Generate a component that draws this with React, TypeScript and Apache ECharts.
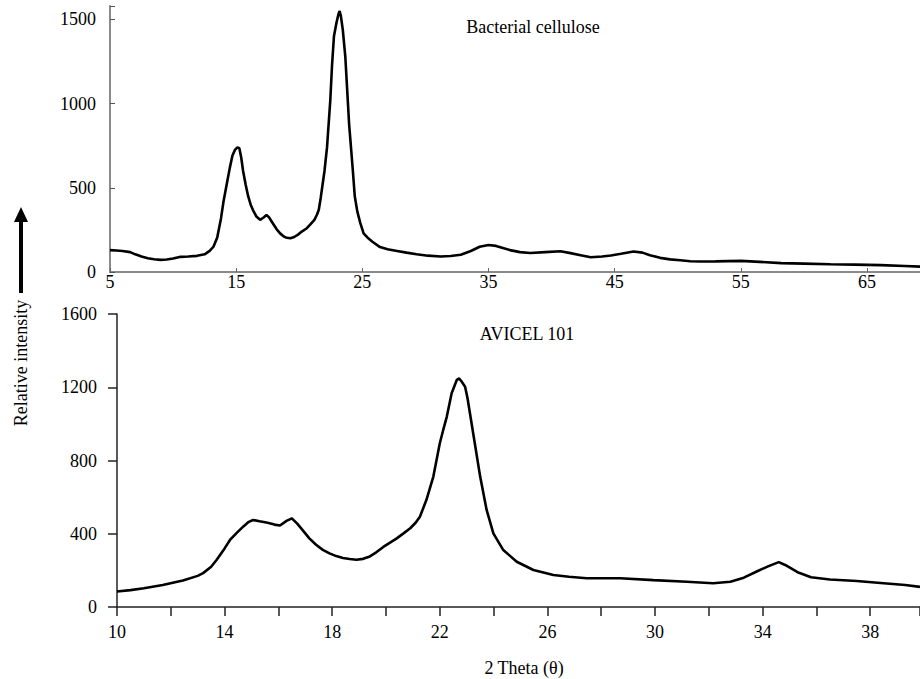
import React, { useEffect, useRef } from "react";
import * as echarts from "echarts";

// Bacterial cellulose (top panel): 2θ and relative intensity
const bcTheta = [5.0,5.5,6.0,6.6,7.0,7.5,8.0,8.5,9.0,9.5,10.0,10.6,11.2,11.9,12.5,12.9,13.2,13.5,13.8,14.0,14.3,14.5,14.7,14.9,15.1,15.25,15.4,15.55,15.75,15.95,16.15,16.35,16.6,16.9,17.2,17.4,17.6,17.9,18.2,18.5,18.8,19.0,19.3,19.6,19.9,20.2,20.6,20.9,21.2,21.4,21.55,21.7,21.85,22.0,22.2,22.46,22.6,22.75,22.95,23.1,23.2,23.3,23.45,23.65,23.8,23.95,24.1,24.25,24.4,24.6,24.84,25.1,25.4,25.8,26.4,27.0,27.75,28.5,29.3,30.2,31.2,32.0,32.8,33.6,34.3,35.0,35.6,36.7,37.5,38.3,39.5,40.7,41.5,42.3,43.1,44.0,44.7,45.5,46.5,47.2,47.8,48.6,49.4,50.2,51.0,51.8,53.0,55.0,56.5,58.2,60.0,62.1,64.0,66.1,68.0,69.2];
const bcIntensity = [130,128,125,118,105,92,82,76,72,74,80,90,92,96,105,125,150,205,320,420,540,620,690,725,740,735,680,600,520,450,400,365,330,310,325,338,325,290,255,228,210,203,200,208,222,240,260,285,310,340,370,440,520,600,740,1020,1230,1400,1480,1530,1550,1520,1440,1280,1080,880,740,600,450,360,290,230,205,180,148,135,125,115,105,97,92,95,102,125,150,160,155,130,118,113,118,123,112,100,88,92,98,108,122,115,100,84,75,70,64,62,63,66,60,53,50,46,44,41,36,32];

// AVICEL 101 (bottom panel)
const avTheta = [10.0,10.5,11.0,11.7,12.45,13.0,13.2,13.5,13.7,14.0,14.2,14.45,14.7,14.9,15.06,15.3,15.6,15.85,16.06,16.3,16.5,16.7,16.9,17.15,17.4,17.65,17.9,18.15,18.4,18.65,18.9,19.15,19.4,19.65,19.9,20.15,20.4,20.65,20.9,21.1,21.26,21.5,21.76,22.0,22.15,22.26,22.44,22.63,22.72,22.81,22.94,23.03,23.12,23.3,23.5,23.74,23.99,24.36,24.86,25.48,26.22,26.8,27.46,28.7,29.94,31.18,32.16,32.8,33.3,33.8,34.2,34.6,34.9,35.3,35.8,36.5,37.5,38.5,39.3,39.85];
const avIntensity = [85,92,102,120,145,170,185,220,257,320,366,405,440,465,475,468,460,450,445,470,484,455,420,375,340,312,293,278,268,262,258,263,276,300,328,352,375,402,430,460,493,584,712,894,980,1040,1167,1240,1248,1231,1203,1140,1058,894,712,530,402,311,247,202,175,165,157,157,147,138,130,138,160,195,222,245,225,190,162,150,142,130,120,110];

// axis settings
const bcThetaMin = 5;
const bcThetaMax = 69.2;
const bcThetaStep = 10;
const bcIntensityMax = 1580;
const bcIntensityStep = 500;
const avThetaMin = 10;
const avThetaMax = 39.85;
const avThetaStep = 2;
const avLabelStep = 4;
const avIntensityMax = 1600;
const avIntensityStep = 400;

const titleTop = "Bacterial cellulose";
const titleBottom = "AVICEL 101";
const xName = "2 Theta (θ)";
const yName = "Relative intensity";

const FONT = "Liberation Serif, Times New Roman, serif";

export default function App() {
  const ref = useRef<HTMLDivElement>(null);
  useEffect(() => {
    document.body.style.margin = "0";
    if (!ref.current) return;
    const chart = echarts.init(ref.current, undefined, { renderer: "svg" });
    const near = (a: number, b: number) => Math.abs(a - b) < 1e-6;
    const topData = bcTheta.map((t, i) => [t - bcThetaMin, bcIntensity[i]]);
    const botData = avTheta.map((t, i) => [t, avIntensity[i]]);
    const labelStyle = { color: "#000", fontFamily: FONT, fontSize: 18 };
    chart.setOption({
      animation: false,
      backgroundColor: "#fff",
      grid: [
        { left: 110, top: 6, width: 810, height: 266, containLabel: false, outerBoundsMode: "none" },
        { left: 117, top: 314, width: 803, height: 293, containLabel: false, outerBoundsMode: "none" },
      ],
      xAxis: [
        {
          gridIndex: 0,
          type: "value",
          min: 0,
          max: bcThetaMax - bcThetaMin,
          interval: bcThetaStep,
          splitLine: { show: false },
          axisLine: { lineStyle: { color: "#8a8a8a", width: 2 } },
          axisTick: { inside: true, length: 4, lineStyle: { color: "#666" } },
          axisLabel: {
            ...labelStyle,
            margin: 1,
            showMaxLabel: false,
            formatter: (v: number) => (near(v % bcThetaStep, 0) ? String(Math.round(v + bcThetaMin)) : ""),
          },
        },
        {
          gridIndex: 1,
          type: "value",
          min: avThetaMin,
          max: avThetaMax,
          interval: avThetaStep,
          splitLine: { show: false },
          axisLine: { lineStyle: { color: "#222", width: 1.5 } },
          axisTick: { inside: false, length: 9, lineStyle: { color: "#222", width: 1.5 } },
          axisLabel: {
            ...labelStyle,
            margin: 16,
            formatter: (v: number) => (near((v - avThetaMin) % avLabelStep, 0) ? String(Math.round(v)) : ""),
          },
        },
      ],
      yAxis: [
        {
          gridIndex: 0,
          type: "value",
          min: 0,
          max: bcIntensityMax,
          interval: bcIntensityStep,
          splitLine: { show: false },
          axisLine: { show: true, lineStyle: { color: "#8a8a8a", width: 2 } },
          axisTick: { show: true, inside: true, length: 5, lineStyle: { color: "#555" } },
          axisLabel: {
            ...labelStyle,
            margin: 14,
            formatter: (v: number) => (near(v % bcIntensityStep, 0) ? String(v) : ""),
          },
        },
        {
          gridIndex: 1,
          type: "value",
          min: 0,
          max: avIntensityMax,
          interval: avIntensityStep,
          splitLine: { show: false },
          axisLine: { show: true, lineStyle: { color: "#222", width: 1.5 } },
          axisTick: { show: true, inside: false, length: 9, lineStyle: { color: "#222", width: 1.5 } },
          axisLabel: { ...labelStyle, margin: 20, formatter: (v: number) => String(v) },
        },
      ],
      series: [
        {
          type: "line",
          xAxisIndex: 0,
          yAxisIndex: 0,
          data: topData,
          showSymbol: false,
          lineStyle: { color: "#000", width: 2.6 },
        },
        {
          type: "line",
          xAxisIndex: 1,
          yAxisIndex: 1,
          data: botData,
          showSymbol: false,
          lineStyle: { color: "#000", width: 2.6 },
        },
      ],
      graphic: [
        { type: "text", x: 533, y: 27, style: { text: titleTop, font: `18px ${FONT}`, fill: "#000", textAlign: "center", textVerticalAlign: "middle" } },
        { type: "text", x: 527, y: 334, style: { text: titleBottom, font: `18px ${FONT}`, fill: "#000", textAlign: "center", textVerticalAlign: "middle" } },
        { type: "text", x: 524, y: 668, style: { text: xName, font: `18px ${FONT}`, fill: "#000", textAlign: "center", textVerticalAlign: "middle" } },
        { type: "text", x: 21, y: 363, rotation: Math.PI / 2, style: { text: yName, font: `18px ${FONT}`, fill: "#000", textAlign: "center", textVerticalAlign: "middle" } },
        { type: "rect", shape: { x: 19, y: 218, width: 4, height: 75 }, style: { fill: "#000" } },
        { type: "polygon", shape: { points: [[14, 222], [28, 222], [21, 207]] }, style: { fill: "#000" } },
      ],
    });
    return () => chart.dispose();
  }, []);
  return <div ref={ref} style={{ width: 920, height: 679 }} />;
}
